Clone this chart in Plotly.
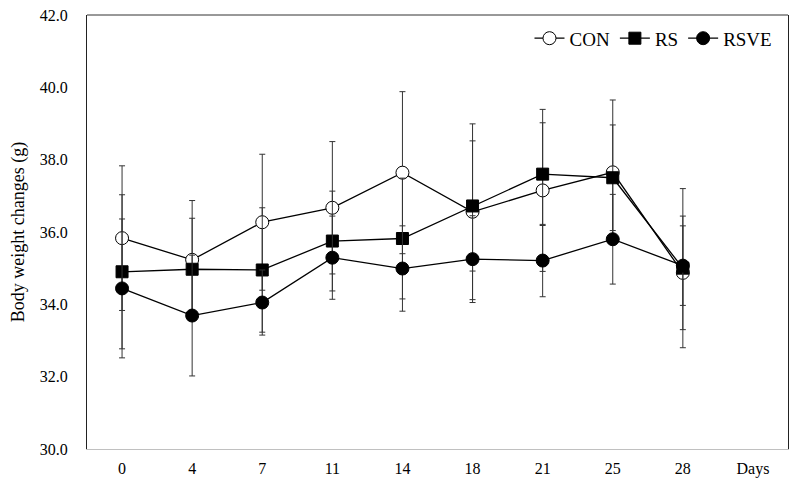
import plotly.graph_objects as go

days = ["0", "4", "7", "11", "14", "18", "21", "25", "28"]
categories = days + ["Days"]

con_mean = [35.83, 35.23, 36.27, 36.67, 37.64, 36.56, 37.15, 37.65, 34.87]
con_sd = [2.00, 1.64, 1.88, 1.83, 2.24, 2.43, 2.24, 2.00, 1.57]
rs_mean = [34.90, 34.97, 34.95, 35.75, 35.82, 36.72, 37.60, 37.50, 35.00]
rs_sd = [2.13, 1.41, 1.72, 1.38, 1.67, 1.80, 1.42, 1.46, 2.20]
rsve_mean = [34.44, 33.69, 34.05, 35.29, 34.99, 35.25, 35.21, 35.80, 35.07]
rsve_sd = [1.92, 1.67, 0.90, 1.15, 1.18, 1.20, 1.00, 1.24, 1.10]

serif = "Liberation Serif"

fig = go.Figure()

def add_series(name, mean, sd, symbol, fill, size):
    fig.add_trace(go.Scatter(
        x=days, y=mean, name=name, mode="lines+markers",
        line=dict(color="black", width=1.3),
        marker=dict(symbol=symbol, size=size, color=fill,
                    line=dict(color="black", width=1)),
        error_y=dict(type="data", array=sd, visible=True,
                     color="#333333", thickness=1, width=3),
    ))

add_series("CON", con_mean, con_sd, "circle", "white", 13)
add_series("RS", rs_mean, rs_sd, "square", "black", 12)
add_series("RSVE", rsve_mean, rsve_sd, "circle", "black", 13)

# page body adds an 8px offset, so margins are trimmed on the left/top
fig.update_layout(
    width=800, height=488,
    margin=dict(l=79, r=20, t=7, b=47),
    plot_bgcolor="white", paper_bgcolor="white",
    font=dict(family=serif, size=15, color="black"),
    showlegend=True,
    legend=dict(orientation="h", x=0.985, xanchor="right", y=0.99, yanchor="top",
                font=dict(family=serif, size=19, color="black"),
                bgcolor="rgba(0,0,0,0)", itemwidth=30, tracegroupgap=0),
    shapes=[dict(type="line", xref="paper", yref="paper", x0=0, x1=1, y0=1, y1=1,
                 line=dict(color="#333333", width=1))],
    annotations=[dict(text="Body weight changes (g)", xref="paper", yref="paper",
                      x=-0.098, y=0.5, textangle=-90, showarrow=False,
                      xanchor="center", yanchor="middle",
                      font=dict(family=serif, size=18, color="black"))],
)
fig.update_xaxes(
    type="category", categoryorder="array", categoryarray=categories,
    range=[-0.5, 9.5], showgrid=False, zeroline=False, automargin=False,
    showline=True, linecolor="#c0c0c0", linewidth=1,
    ticks="", tickfont=dict(family=serif, size=16), ticklabelstandoff=5,
    ticklabeloverflow="allow",
)
fig.update_yaxes(
    range=[30, 42], dtick=2, tickformat=".1f", showgrid=False, zeroline=False,
    automargin=False,
    showline=True, linecolor="#222222", linewidth=1, mirror=True,
    ticks="", tickfont=dict(family=serif, size=16), ticklabelstandoff=15,
    ticklabeloverflow="allow",
)

fig.write_html("out.html")
